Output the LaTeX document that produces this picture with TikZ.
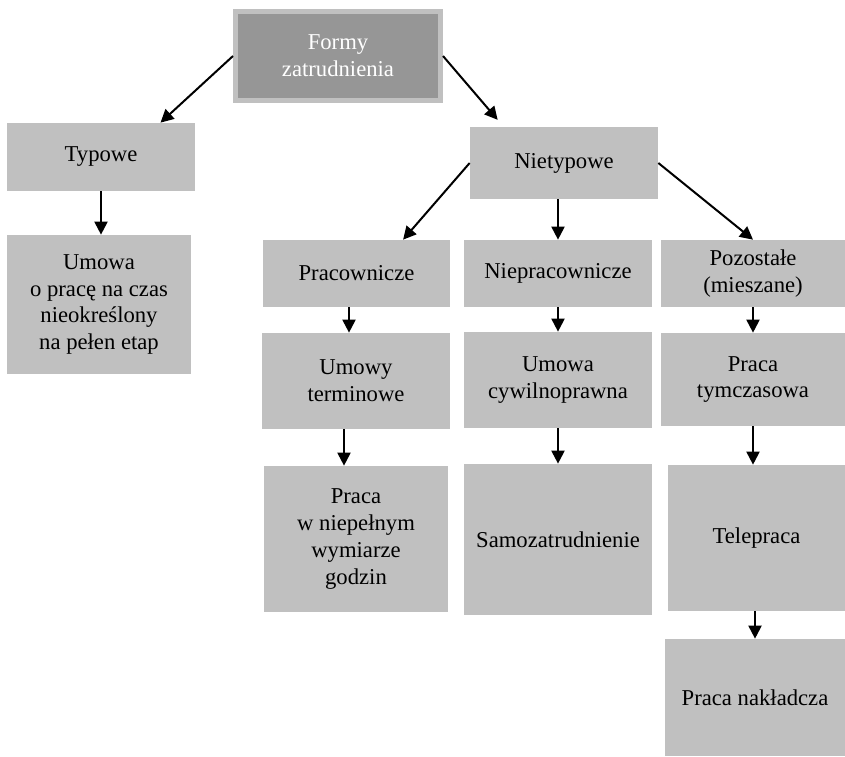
\documentclass[tikz,border=0pt]{standalone}
\usepackage{fontspec}
\setmainfont{Liberation Serif}
\usetikzlibrary{arrows.meta}
\definecolor{boxgray}{RGB}{192,192,192}
\definecolor{topgray}{RGB}{150,150,150}
\tikzset{
	box/.style={rectangle,fill=boxgray,inner sep=0pt,align=center,font=\fontsize{12.9}{15.2}\selectfont},
	arr/.style={->,line width=0.04cm,>={Triangle[length=0.26cm,width=0.26cm]}}
}
\begin{document}
\begin{tikzpicture}
				\useasboundingbox (0,0) rectangle (16.9,-15.12);
				
				\node[box,fill=topgray,draw=boxgray,line width=0.1cm,text=white,minimum width=4.1cm,minimum height=1.78cm] (top) at (6.76,-1.12) {Formy\\zatrudnienia};
				\begin{scope}[every node/.style={box}]
					\node[minimum width=3.76cm,minimum height=1.36cm] (typ) at (2.02,-3.14) {Typowe};
					\node[minimum width=3.68cm,minimum height=2.78cm] (umowa) at (1.98,-6.09) {Umowa\\o pracę na czas\\nieokreślony\\na pełen etap};
					\node[minimum width=3.76cm,minimum height=1.44cm] (niet) at (11.28,-3.26) {Nietypowe};
					\node[minimum width=3.74cm,minimum height=1.34cm] (prac) at (7.13,-5.47) {Pracownicze};
					\node[minimum width=3.76cm,minimum height=1.34cm] (nieprac) at (11.16,-5.47) {Niepracownicze};
					\node[minimum width=3.68cm,minimum height=1.34cm] (pozost) at (15.06,-5.47) {Pozostałe\\(mieszane)};
					\node[minimum width=3.76cm,minimum height=1.92cm] (umter) at (7.12,-7.62) {Umowy\\terminowe};
					\node[minimum width=3.76cm,minimum height=1.92cm] (umcyw) at (11.16,-7.6) {Umowa\\cywilnoprawna};
					\node[minimum width=3.68cm,minimum height=1.86cm] (pratym) at (15.06,-7.59) {Praca\\tymczasowa};
					\node[minimum width=3.68cm,minimum height=2.92cm] (niepel) at (7.12,-10.78) {Praca\\w niepełnym\\wymiarze\\godzin};
					\node[minimum width=3.76cm,minimum height=3.02cm] (samoz) at (11.16,-10.79) {Samozatrudnienie};
					\node[minimum width=3.54cm,minimum height=2.92cm] (tele) at (15.13,-10.76) {Telepraca};
					\node[minimum width=3.6cm,minimum height=2.34cm] (naklad) at (15.1,-13.95) {Praca nakładcza};
				\end{scope}
				
				\draw[arr] (top.west) -- (typ.30);
				\draw[arr,shorten >=0.18cm] (top.east) -- (niet.149);
				\draw[arr] (typ.south) -- (typ.south |- umowa.north);
				\draw[arr] (niet.west) -- (prac.36);
				\draw[arr] (nieprac.north |- niet.south) -- (nieprac.north);
				\draw[arr] (niet.east) -- (pozost.north);
				\draw[arr] ([xshift=-0.15cm]prac.south) -- ([xshift=-0.15cm]prac.south |- umter.north);
				\draw[arr] ([xshift=-0.24cm]umter.south) -- ([xshift=-0.24cm]umter.south |- niepel.north);
				\draw[arr] (nieprac.south) -- (nieprac.south |- umcyw.north);
				\draw[arr] (umcyw.south) -- (umcyw.south |- samoz.north);
				\draw[arr] (pozost.south) -- (pozost.south |- pratym.north);
				\draw[arr] (pratym.south) -- (pratym.south |- tele.north);
				\draw[arr] (naklad.north |- tele.south) -- (naklad.north);
			\end{tikzpicture}
\end{document}
